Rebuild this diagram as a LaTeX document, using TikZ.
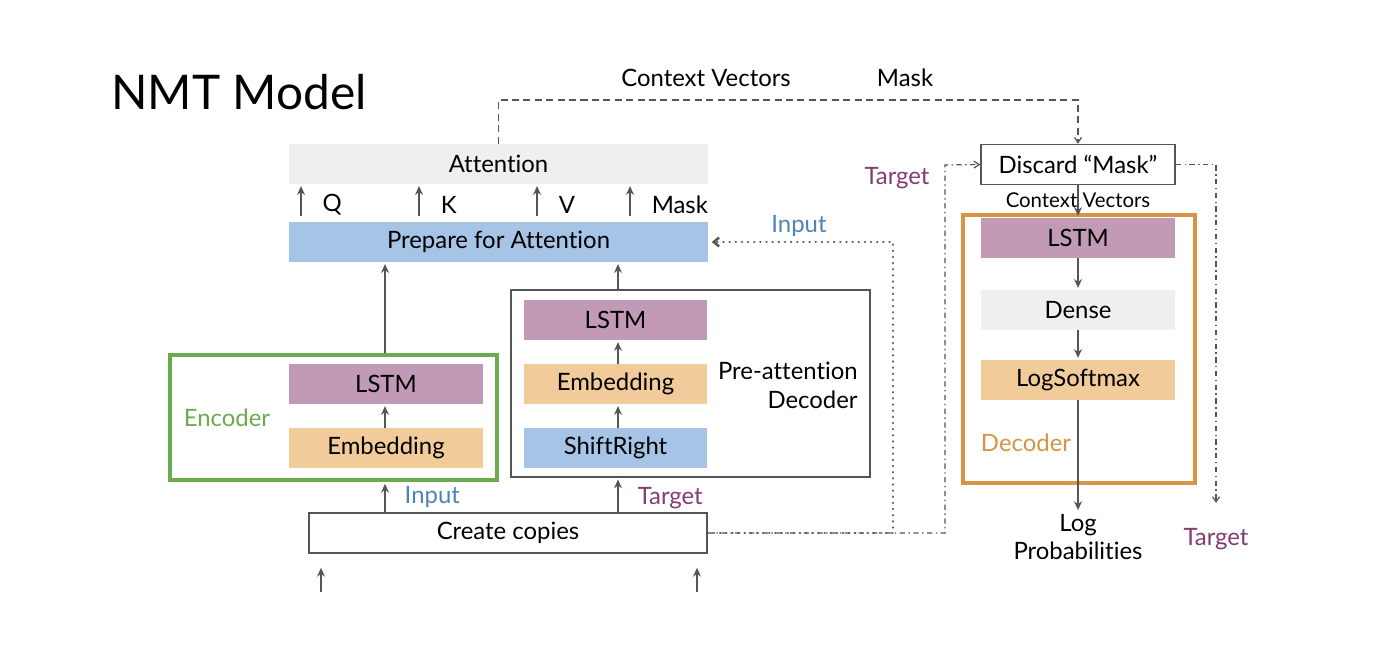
\documentclass[tikz,border=0pt]{standalone}
\usepackage{fontspec}
\setmainfont{Lato}[Ligatures=CommonOff]
\usetikzlibrary{arrows.meta}
\definecolor{attgray}{RGB}{239,239,239}
\definecolor{prepblue}{RGB}{166,196,230}
\definecolor{lstmpurple}{RGB}{194,154,182}
\definecolor{embedorange}{RGB}{242,203,155}
\definecolor{encgreen}{RGB}{108,170,80}
\definecolor{decorange}{RGB}{214,148,68}
\definecolor{tgtpurple}{RGB}{130,60,110}
\definecolor{inpblue}{RGB}{80,132,184}
\definecolor{linegray}{RGB}{85,85,85}

\begin{document}
\begin{tikzpicture}[
        x=0.02cm, y=-0.02cm,
        txt/.style={font=\fontsize{13.6}{16.4}\selectfont, inner sep=0pt},
        layer/.style={txt, minimum width=#1, minimum height=0.8cm},
        frame/.style={draw=#1, fill=white, line width=0.9pt},
        conn/.style={draw=linegray, line width=0.85pt, -{Stealth[length=5pt,width=4.5pt]}},
        dashconn/.style={draw=linegray, line width=0.7pt, dash pattern=on 4pt off 2.5pt, -{Straight Barb[length=3pt,width=4pt]}},
        dashdotconn/.style={draw=linegray, line width=0.7pt, dash pattern=on 3pt off 2pt on 0.8pt off 2pt, -{Straight Barb[length=3pt,width=4pt]}},
        dotconn/.style={draw=linegray, line width=1.4pt, dash pattern=on 0.1pt off 3.4pt, line cap=round, -{Straight Barb[length=3pt,width=5pt]}},
    ]
        \useasboundingbox (0,0) rectangle (1378,662);

        \node[font=\fontsize{27.2}{32}\selectfont, anchor=west, inner sep=0pt] (title) at (111,92) {NMT Model};

        % attention part
        \node[layer=8.38cm, fill=attgray] (att) at (498.5,164) {Attention};
        \node[layer=8.38cm, fill=prepblue] (prep) at (498.5,242) {Prepare for Attention};
        \foreach \xa/\lab [count=\i] in {301/Q, 419/K, 537/V, 630/Mask} {
            \coordinate (qkv\i) at (\xa,0);
            \draw[conn, shorten <=3pt, shorten >=1pt] (prep.north -| qkv\i) -- (att.south -| qkv\i)
                node[txt, midway, anchor=west, xshift=0.42cm, yshift=-1pt] (qkvlbl\i) {\lab};
        }

        % encoder
        \node[draw=encgreen, line width=2.4pt, minimum width=6.54cm, minimum height=2.5cm] (encbox) at (333.5,417.5) {};
        \node[txt, text=encgreen] (enclbl) at (227,418) {Encoder};
        \node[layer=3.88cm, fill=lstmpurple] (enclstm) at (386,384) {LSTM};
        \node[layer=3.88cm, fill=embedorange] (encemb) at (386,448) {Embedding};

        % pre-attention decoder
        \node[draw=linegray, line width=0.9pt, minimum width=7.18cm, minimum height=3.74cm] (prebox) at (690.5,383.5) {};
        \node[layer=3.66cm, fill=lstmpurple] (prelstm) at (615.5,320) {LSTM};
        \node[layer=3.66cm, fill=embedorange] (preemb) at (615.5,384) {Embedding};
        \node[layer=3.66cm, fill=prepblue] (preshift) at (615.5,448) {ShiftRight};
        \node[txt, align=right, anchor=east] (prelbl) at (858,385) {Pre-attention\\Decoder};

        % create copies
        \node[layer=7.96cm, frame=linegray] (cc) at (508,533) {Create copies};
        \coordinate (inA) at (321,592);
        \coordinate (inB) at (697,592);
        \draw[conn, shorten >=8pt] (inA) -- (cc.south -| inA);
        \draw[conn, shorten >=8pt] (inB) -- (cc.south -| inB);

        \coordinate (encx) at (385,0);
        \coordinate (prex) at (618,0);
        \draw[conn, shorten >=1pt] (cc.north -| encx) -- (encbox.south -| encx)
            node[txt, midway, anchor=west, xshift=0.38cm, text=inpblue] (inplbl) {Input};
        \draw[conn, shorten >=1pt] (cc.north -| prex) -- (prebox.south -| prex)
            node[txt, midway, anchor=west, xshift=0.38cm, yshift=-2pt, text=tgtpurple] (tgtlbl) {Target};
        \draw[conn, shorten >=1pt] (encbox.north -| encx) -- (prep.south -| encx);
        \draw[conn, shorten >=1pt] (prebox.north -| prex) -- (prep.south -| prex);
        \draw[conn, shorten >=1pt] (encemb.north -| encx) -- (enclstm.south -| encx);
        \draw[conn, shorten >=1pt] (preshift.north -| prex) -- (preemb.south -| prex);
        \draw[conn, shorten >=1pt] (preemb.north -| prex) -- (prelstm.south -| prex);

        % decoder
        \node[layer=3.88cm, frame=linegray] (disc) at (1078,164.5) {Discard \char"201C Mask\char"201D};
        \node[draw=decorange, line width=2.2pt, minimum width=4.64cm, minimum height=5.36cm] (decbox) at (1079,349) {};
        \node[layer=3.88cm, fill=lstmpurple] (declstm) at (1078,238) {LSTM};
        \node[layer=3.88cm, fill=attgray] (dense) at (1078,310) {Dense};
        \node[layer=3.88cm, fill=embedorange] (logsm) at (1078,380) {LogSoftmax};
        \node[txt, text=decorange] (declbl) at (1026,443) {Decoder};
        \node[txt, align=center] (logp) at (1078,537) {Log\\Probabilities};
        \node[txt, text=tgtpurple] (tgtout) at (1216,539) {Target};

        \draw[conn, shorten >=1pt] (disc.south) -- (declstm.north)
            node[midway, font=\fontsize{11.6}{14}\selectfont, inner sep=0pt, yshift=1pt] (ctxlbl) {Context Vectors};
        \draw[conn, shorten >=1pt] (declstm) -- (dense);
        \draw[conn, shorten >=1pt] (dense) -- (logsm);
        \draw[conn, shorten >=2pt] (logsm) -- (logp);

        % connectors between the parts
        \coordinate (dtop) at (1078,100);
        \draw[dashconn] (att.north) |- (dtop) -- (disc.north);
        \node[txt] (ctxtop) at (706,78) {Context Vectors};
        \node[txt] (masktop) at (905,78) {Mask};

        \coordinate (dotc) at (893,242);
        \draw[dotconn, shorten >=2pt] (cc.east) -| (dotc) -- (prep.east);
        \node[txt, text=inpblue] (inpdot) at (799,226) {Input};

        \coordinate (ddc) at (945,165);
        \draw[dashdotconn] (cc.east) -| (ddc) -- (disc.west);
        \node[txt, text=tgtpurple] (tgtdd) at (897,178) {Target};

        \coordinate (tgtend) at (1216,503);
        \draw[dashdotconn] (disc.east) -| (tgtend);
    \end{tikzpicture}
\end{document}
